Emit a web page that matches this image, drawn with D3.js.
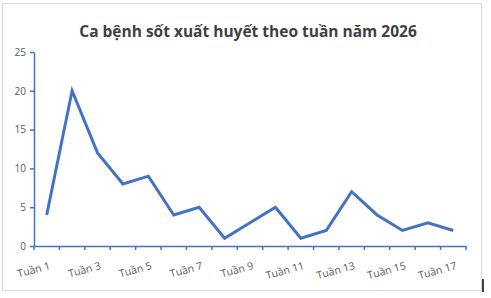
<!DOCTYPE html>
<html>
<head>
<meta charset="utf-8">
<script src="https://cdn.jsdelivr.net/npm/d3@7"></script>
<style>
body{margin:0;background:#fff;}
svg{display:block;}
</style>
</head>
<body>
<div id="chart"></div>
<script>
var weeks = ["Tuần 1","Tuần 2","Tuần 3","Tuần 4","Tuần 5","Tuần 6","Tuần 7","Tuần 8","Tuần 9",
	"Tuần 10","Tuần 11","Tuần 12","Tuần 13","Tuần 14","Tuần 15","Tuần 16","Tuần 17"];
var cases = [4,20,12,8,9,4,5,1,3,5,1,2,7,4,2,3,2];
var yTicks = [0,5,10,15,20,25];
var title = "Ca bệnh sốt xuất huyết theo tuần năm 2026";

var W = 491, H = 298;
var blue = '#4472c4', grey = '#595959';
var pLeft = 34, pRight = 466, pTop = 52, pBottom = 246;

var svg = d3.select('#chart').append('svg')
	.attr('width', W)
	.attr('height', H);

svg.append('rect')//chart frame
	.attr('x', 2.5).attr('y', 3.5)
	.attr('width', 479).attr('height', 287)
	.attr('fill', '#fff')
	.attr('stroke', '#d9d9d9');

svg.append('line')//small dark mark at the right edge
	.attr('x1', 483).attr('x2', 483)
	.attr('y1', 279).attr('y2', 292)
	.attr('stroke', '#000').attr('stroke-width', 1.5);

svg.append('text')
	.attr('x', 248).attr('y', 37)
	.attr('text-anchor', 'middle')
	.attr('font-family', 'Open Sans, sans-serif')
	.attr('font-weight', 'bold')
	.attr('font-size', 15.5)
	.attr('fill', '#404040')
	.text(title);

var x = d3.scaleBand().domain(weeks).range([pLeft, pRight]);
var y = d3.scaleLinear().domain([0, 25]).range([pBottom, pTop]);

var yAxis = svg.append('g')
	.attr('transform', 'translate(' + pLeft + ',0)')
	.call(d3.axisLeft(y).tickValues(yTicks).tickSize(4).tickPadding(4).tickSizeOuter(0));
yAxis.select('.domain').attr('stroke', blue).attr('stroke-width', 1.5);
yAxis.selectAll('.tick line').attr('stroke', blue).attr('stroke-width', 1.5);
yAxis.selectAll('.tick text')
	.attr('fill', grey)
	.attr('font-family', 'Open Sans, sans-serif')
	.attr('font-size', 10);

var xAxis = svg.append('g')
	.attr('transform', 'translate(0,' + pBottom + ')')
	.call(d3.axisBottom(x).tickSize(0).tickFormat(function(d, i){ return i % 2 == 0 ? d : ''; }));
xAxis.select('.domain').attr('stroke', blue).attr('stroke-width', 1.5);
xAxis.selectAll('.tick text')
	.attr('fill', grey)
	.attr('font-family', 'Open Sans, sans-serif')
	.attr('font-size', 10.5)
	.attr('text-anchor', 'end')
	.attr('dy', null)
	.attr('y', 0)
	.attr('transform', 'translate(4,23) rotate(-15)');

//ticks between categories
var bounds = weeks.map(function(d){ return x(d); }).concat([pRight]);
svg.selectAll('.xtick').data(bounds).enter().append('line')
	.attr('class', 'xtick')
	.attr('x1', function(d){ return d; }).attr('x2', function(d){ return d; })
	.attr('y1', pBottom).attr('y2', pBottom + 4)
	.attr('stroke', blue).attr('stroke-width', 1.5);

var line = d3.line()
	.x(function(d, i){ return x(weeks[i]) + x.bandwidth() / 2; })
	.y(function(d){ return y(d); });

svg.append('path')
	.datum(cases)
	.attr('d', line)
	.attr('fill', 'none')
	.attr('stroke', blue)
	.attr('stroke-width', 3)
	.attr('stroke-linejoin', 'miter');
</script>
</body>
</html>
